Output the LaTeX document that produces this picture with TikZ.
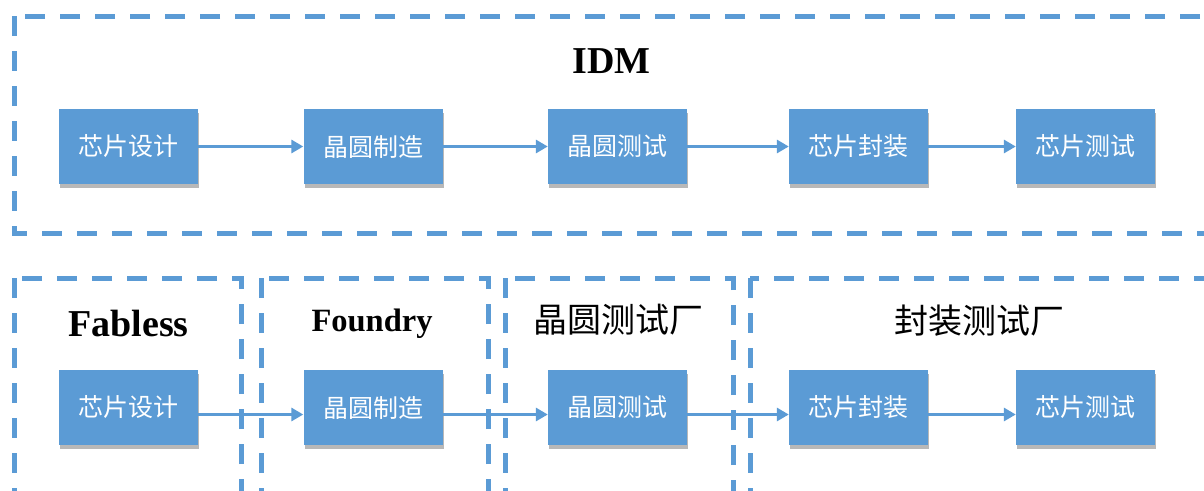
\documentclass[tikz,border=0pt]{standalone}
\usepackage{fontspec}
\setmainfont{Liberation Serif}
\newfontfamily\cjk{Noto Sans CJK SC}
\usetikzlibrary{arrows.meta,shadows}
\definecolor{ofblue}{HTML}{5B9BD5}
\tikzset{
  frame/.style={draw=ofblue, line width=5pt, dash pattern=on 20pt off 15pt},
  stage/.style={fill=ofblue, draw=none, minimum width=139pt, minimum height=75pt, inner sep=0pt,
    text=white, font=\cjk\fontsize{25}{25}\selectfont,
    drop shadow={shadow xshift=1pt, shadow yshift=-4pt, opacity=0.28, fill=black}},
  flow/.style={draw=ofblue, line width=3.4pt, -{Triangle[length=12pt,width=13pt]}},
  ltitle/.style={anchor=base, font=\bfseries\fontsize{38}{38}\selectfont},
  ctitle/.style={font=\cjk\fontsize{34}{34}\selectfont}
}
\begin{document}
\begin{tikzpicture}[x=1pt,y=-1pt]
\useasboundingbox (0,0) rectangle (1204,490);
\clip (0,0) rectangle (1204,490);
\fill[white] (0,0) rectangle (1204,490);
% titles
\node[ltitle] (tidm) at (611.5,73) {IDM};
\node[ltitle] (tfab) at (128.5,336) {Fabless};
\node[ltitle, font=\bfseries\fontsize{32.5}{32.5}\selectfont] (tfou) at (372,331.7) {Foundry};
\node[ctitle] (twt) at (618.5,320) {晶圆测试厂};
\node[ctitle] (tpt) at (979,321) {封装测试厂};
% top row
\node[stage] (a1) at (128.5,146.5) {芯片设计};
\node[stage] (a2) at (373,146.5) {晶圆制造};
\node[stage] (a3) at (617.5,146.5) {晶圆测试};
\node[stage] (a4) at (858.5,146.5) {芯片封装};
\node[stage] (a5) at (1085.5,146.5) {芯片测试};
\draw[flow] (a1) -- (a2);
\draw[flow] (a2) -- (a3);
\draw[flow] (a3) -- (a4);
\draw[flow] (a4) -- (a5);
% bottom row
\node[stage] (b1) at (128.5,407.5) {芯片设计};
\node[stage] (b2) at (373,407.5) {晶圆制造};
\node[stage] (b3) at (617.5,407.5) {晶圆测试};
\node[stage] (b4) at (858.5,407.5) {芯片封装};
\node[stage] (b5) at (1085.5,407.5) {芯片测试};
\draw[flow] ([yshift=-7pt]b1.east) -- ([yshift=-7pt]b2.west);
\draw[flow] ([yshift=-7pt]b2.east) -- ([yshift=-7pt]b3.west);
\draw[flow] ([yshift=-7pt]b3.east) -- ([yshift=-7pt]b4.west);
\draw[flow] ([yshift=-7pt]b4.east) -- ([yshift=-7pt]b5.west);
% frames
\draw[frame] (14,16) rectangle (1230,233);
\draw[frame] (14,278) rectangle (241,520);
\draw[frame] (261,278) rectangle (488,520);
\draw[frame] (505,278) rectangle (733,520);
\draw[frame] (750,278) rectangle (1230,520);
\end{tikzpicture}
\end{document}
